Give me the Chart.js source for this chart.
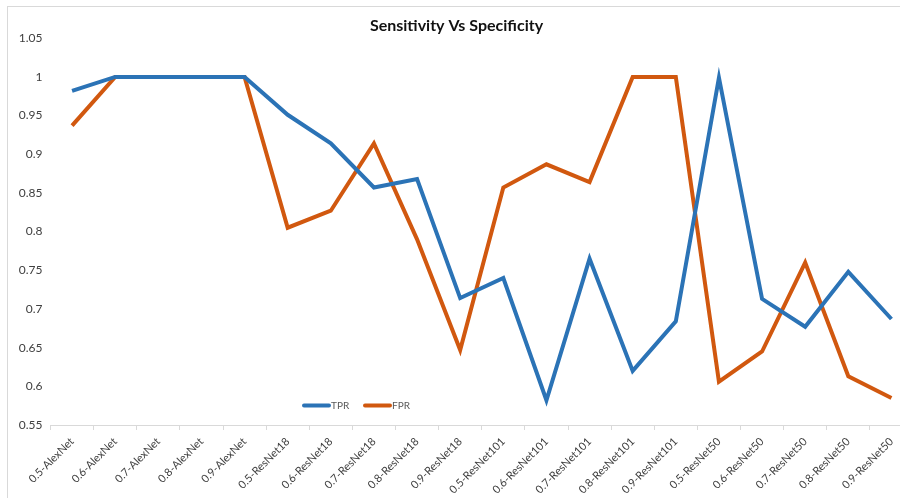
<!DOCTYPE html>
<html>
<head>
<meta charset="utf-8">
<script src="https://cdn.jsdelivr.net/npm/chart.js@4"></script>
<style>
  html, body { margin: 0; padding: 0; background: #fff; overflow: hidden; }
  #marco { position: absolute; left: 7px; top: 6px; width: 1000px; height: 600px;
           border-left: 1px solid #d9d9d9; border-top: 1px solid #d9d9d9; }
  #contenedor { position: absolute; left: 0; top: 0; width: 913px; height: 498px; }
</style>
</head>
<body>
<div id="marco"></div>
<div id="contenedor"><canvas id="myChart"></canvas></div>
<script>
const categorias = ['0.5-AlexNet', '0.6-AlexNet', '0.7-AlexNet', '0.8-AlexNet', '0.9-AlexNet',
  '0.5-ResNet18', '0.6-ResNet18', '0.7-ResNet18', '0.8-ResNet18', '0.9-ResNet18',
  '0.5-ResNet101', '0.6-ResNet101', '0.7-ResNet101', '0.8-ResNet101', '0.9-ResNet101',
  '0.5-ResNet50', '0.6-ResNet50', '0.7-ResNet50', '0.8-ResNet50', '0.9-ResNet50'];
const valoresTPR = [0.982, 1, 1, 1, 1, 0.951, 0.914, 0.857, 0.868, 0.714,
  0.740, 0.582, 0.765, 0.620, 0.684, 0.999, 0.713, 0.677, 0.748, 0.687];
const valoresFPR = [0.937, 1, 1, 1, 1, 0.805, 0.827, 0.914, 0.790, 0.647,
  0.857, 0.887, 0.864, 1, 1, 0.606, 0.645, 0.760, 0.613, 0.585];
const ticksY = [0.55, 0.6, 0.65, 0.7, 0.75, 0.8, 0.85, 0.9, 0.95, 1, 1.05];

const ctx = document.getElementById('myChart');
const fuente = 'Lato, "Liberation Sans", sans-serif';
const gris = '#404040';

// leyenda dentro del area del grafico, abajo
const leyendaAbajo = {
  id: 'leyendaAbajo',
  afterDatasetsDraw(chart) {
    const c = chart.ctx;
    const y = chart.chartArea.bottom - 19.5;
    let x = 304;
    c.save();
    c.font = '10px ' + fuente;
    c.textBaseline = 'middle';
    chart.data.datasets.forEach(ds => {
      c.strokeStyle = ds.borderColor;
      c.lineWidth = 4;
      c.lineCap = 'round';
      c.beginPath();
      c.moveTo(x, y);
      c.lineTo(x + 25, y);
      c.stroke();
      c.fillStyle = '#595959';
      c.fillText(ds.label, x + 27, y + 0.5);
      x += 61;
    });
    c.restore();
  }
};

new Chart(ctx, {
  type: 'line',
  data: {
    labels: categorias,
    datasets: [
      { label: 'TPR', data: valoresTPR, borderColor: '#2b73b6', borderWidth: 4, pointRadius: 0, tension: 0 },
      { label: 'FPR', data: valoresFPR, borderColor: '#d1580f', borderWidth: 4, pointRadius: 0, tension: 0 }
    ]
  },
  options: {
    responsive: true,
    maintainAspectRatio: false,
    animation: false,
    layout: { padding: 0 },
    plugins: {
      legend: { display: false },
      tooltip: { enabled: false },
      title: {
        display: true,
        text: 'Sensitivity Vs Specificity',
        color: '#111111',
        font: { family: fuente, size: 16, weight: 'bold' },
        padding: { top: 16, bottom: 3 }
      }
    },
    scales: {
      x: {
        offset: true,
        grid: { offset: true, drawOnChartArea: false, drawTicks: true, tickLength: 5, color: '#d9d9d9' },
        border: { color: '#d9d9d9' },
        ticks: { color: gris, font: { family: fuente, size: 11 }, maxRotation: 45, minRotation: 45, padding: 5, autoSkip: false },
        afterFit(scale) { scale.height = 73; }
      },
      y: {
        min: 0.55,
        max: 1.05,
        grid: { display: false, drawTicks: false },
        border: { display: false },
        ticks: { color: gris, font: { family: fuente, size: 12 }, padding: 8, callback: v => +v.toFixed(2) },
        afterBuildTicks(axis) { axis.ticks = ticksY.map(v => ({ value: v })); },
        afterFit(scale) { scale.width = 50.5; }
      }
    }
  },
  plugins: [leyendaAbajo]
});
</script>
</body>
</html>
